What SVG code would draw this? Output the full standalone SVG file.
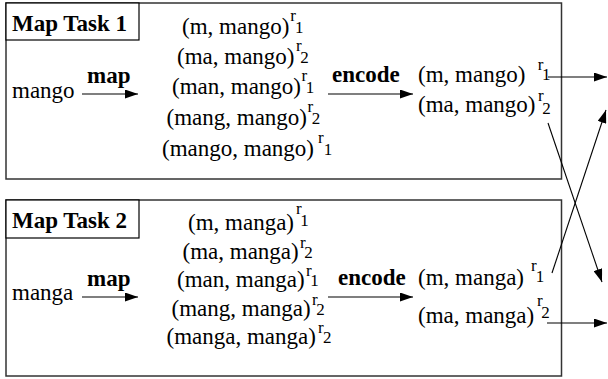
<svg xmlns="http://www.w3.org/2000/svg" width="608" height="379" viewBox="0 0 608 379">
<style>
text{font-family:"Liberation Serif","Times New Roman",serif;fill:#000}
.t{font-size:23px}
.b{font-size:23px;font-weight:bold}
.s{font-size:17px}
.box{fill:none;stroke:#333;stroke-width:1.5}
.tb{fill:#fff;stroke:#000;stroke-width:1.2}
.ln{fill:none;stroke:#000;stroke-width:1.1}
</style>
<defs>
<marker id="ah" markerUnits="userSpaceOnUse" markerWidth="14" markerHeight="9" refX="13" refY="4.5" orient="auto">
<path d="M0,0 L13,4.5 L0,9 z" fill="#000"/>
</marker>
</defs>
<rect width="608" height="379" fill="#fff"/>

<g id="task1">
<rect class="box" x="6" y="3" width="555.5" height="176"/>
<rect class="tb" x="6" y="3" width="133" height="37"/>
<text class="b" x="12" y="31">Map Task 1</text>
<text class="t" x="12" y="98">mango</text>
<text class="b" x="87" y="83">map</text>
<text class="t" x="182" y="34">(m, mango)<tspan class="s" dx="1" dy="-13">r</tspan><tspan class="s" dx="-1" dy="12">1</tspan></text>
<text class="t" x="177" y="64">(ma, mango)<tspan class="s" dx="1.5" dy="-13">r</tspan><tspan class="s" dx="-1.5" dy="12">2</tspan></text>
<text class="t" x="172" y="94">(man, mango)<tspan class="s" dx="0.5" dy="-13">r</tspan><tspan class="s" dx="-1.5" dy="12">1</tspan></text>
<text class="t" x="166.5" y="125">(mang, mango)<tspan class="s" dx="0.5" dy="-13">r</tspan><tspan class="s" dx="-1.5" dy="12">2</tspan></text>
<text class="t" x="162" y="156">(mango, mango)<tspan class="s" dx="4" dy="-13">r</tspan><tspan class="s" dx="0" dy="12">1</tspan></text>
<text class="b" x="332" y="82">encode</text>
<text class="t" x="418" y="82">(m, mango)<tspan class="s" dx="12.5" dy="-12">r</tspan><tspan class="s" dx="-1.5" dy="10">1</tspan></text>
<text class="t" x="418" y="112">(ma, mango)<tspan class="s" dx="2.5" dy="-11">r</tspan><tspan class="s" dx="-1.5" dy="13">2</tspan></text>
</g>

<g id="task2">
<rect class="box" x="6" y="200" width="555.5" height="176"/>
<rect class="tb" x="6" y="200" width="133" height="38"/>
<text class="b" x="12" y="228">Map Task 2</text>
<text class="t" x="12" y="300">manga</text>
<text class="b" x="87" y="286">map</text>
<text class="t" x="188" y="230">(m, manga)<tspan class="s" dx="2" dy="-16">r</tspan><tspan class="s" dx="-1.5" dy="12">1</tspan></text>
<text class="t" x="182.5" y="258.5">(ma, manga)<tspan class="s" dx="1.3" dy="-11">r</tspan><tspan class="s" dx="-1.5" dy="10">2</tspan></text>
<text class="t" x="177" y="287">(man, manga)<tspan class="s" dx="1.3" dy="-11">r</tspan><tspan class="s" dx="-1.5" dy="10">1</tspan></text>
<text class="t" x="171.5" y="315.5">(mang, manga)<tspan class="s" dx="1.3" dy="-11">r</tspan><tspan class="s" dx="-1.5" dy="10">2</tspan></text>
<text class="t" x="166.5" y="344">(manga, manga)<tspan class="s" dx="2" dy="-11">r</tspan><tspan class="s" dx="-0.5" dy="10">2</tspan></text>
<text class="b" x="338" y="285">encode</text>
<text class="t" x="418" y="285">(m, manga)<tspan class="s" dx="7" dy="-14">r</tspan><tspan class="s" dx="-1" dy="11">1</tspan></text>
<text class="t" x="418" y="323">(ma, manga)<tspan class="s" dx="2.8" dy="-17">r</tspan><tspan class="s" dx="-1.5" dy="12">2</tspan></text>
</g>

<g id="connectors">
<line class="ln" x1="82" y1="94" x2="138" y2="94" marker-end="url(#ah)"/>
<line class="ln" x1="328" y1="94" x2="413" y2="94" marker-end="url(#ah)"/>
<line class="ln" x1="548" y1="77" x2="607" y2="77" marker-end="url(#ah)"/>
<line class="ln" x1="548" y1="123" x2="602" y2="282" marker-end="url(#ah)"/>
<line class="ln" x1="82" y1="297" x2="138" y2="297" marker-end="url(#ah)"/>
<line class="ln" x1="328" y1="297" x2="413" y2="297" marker-end="url(#ah)"/>
<line class="ln" x1="552" y1="273" x2="606" y2="110" marker-end="url(#ah)"/>
<line class="ln" x1="547" y1="323" x2="607" y2="323" marker-end="url(#ah)"/>
</g>
</svg>
